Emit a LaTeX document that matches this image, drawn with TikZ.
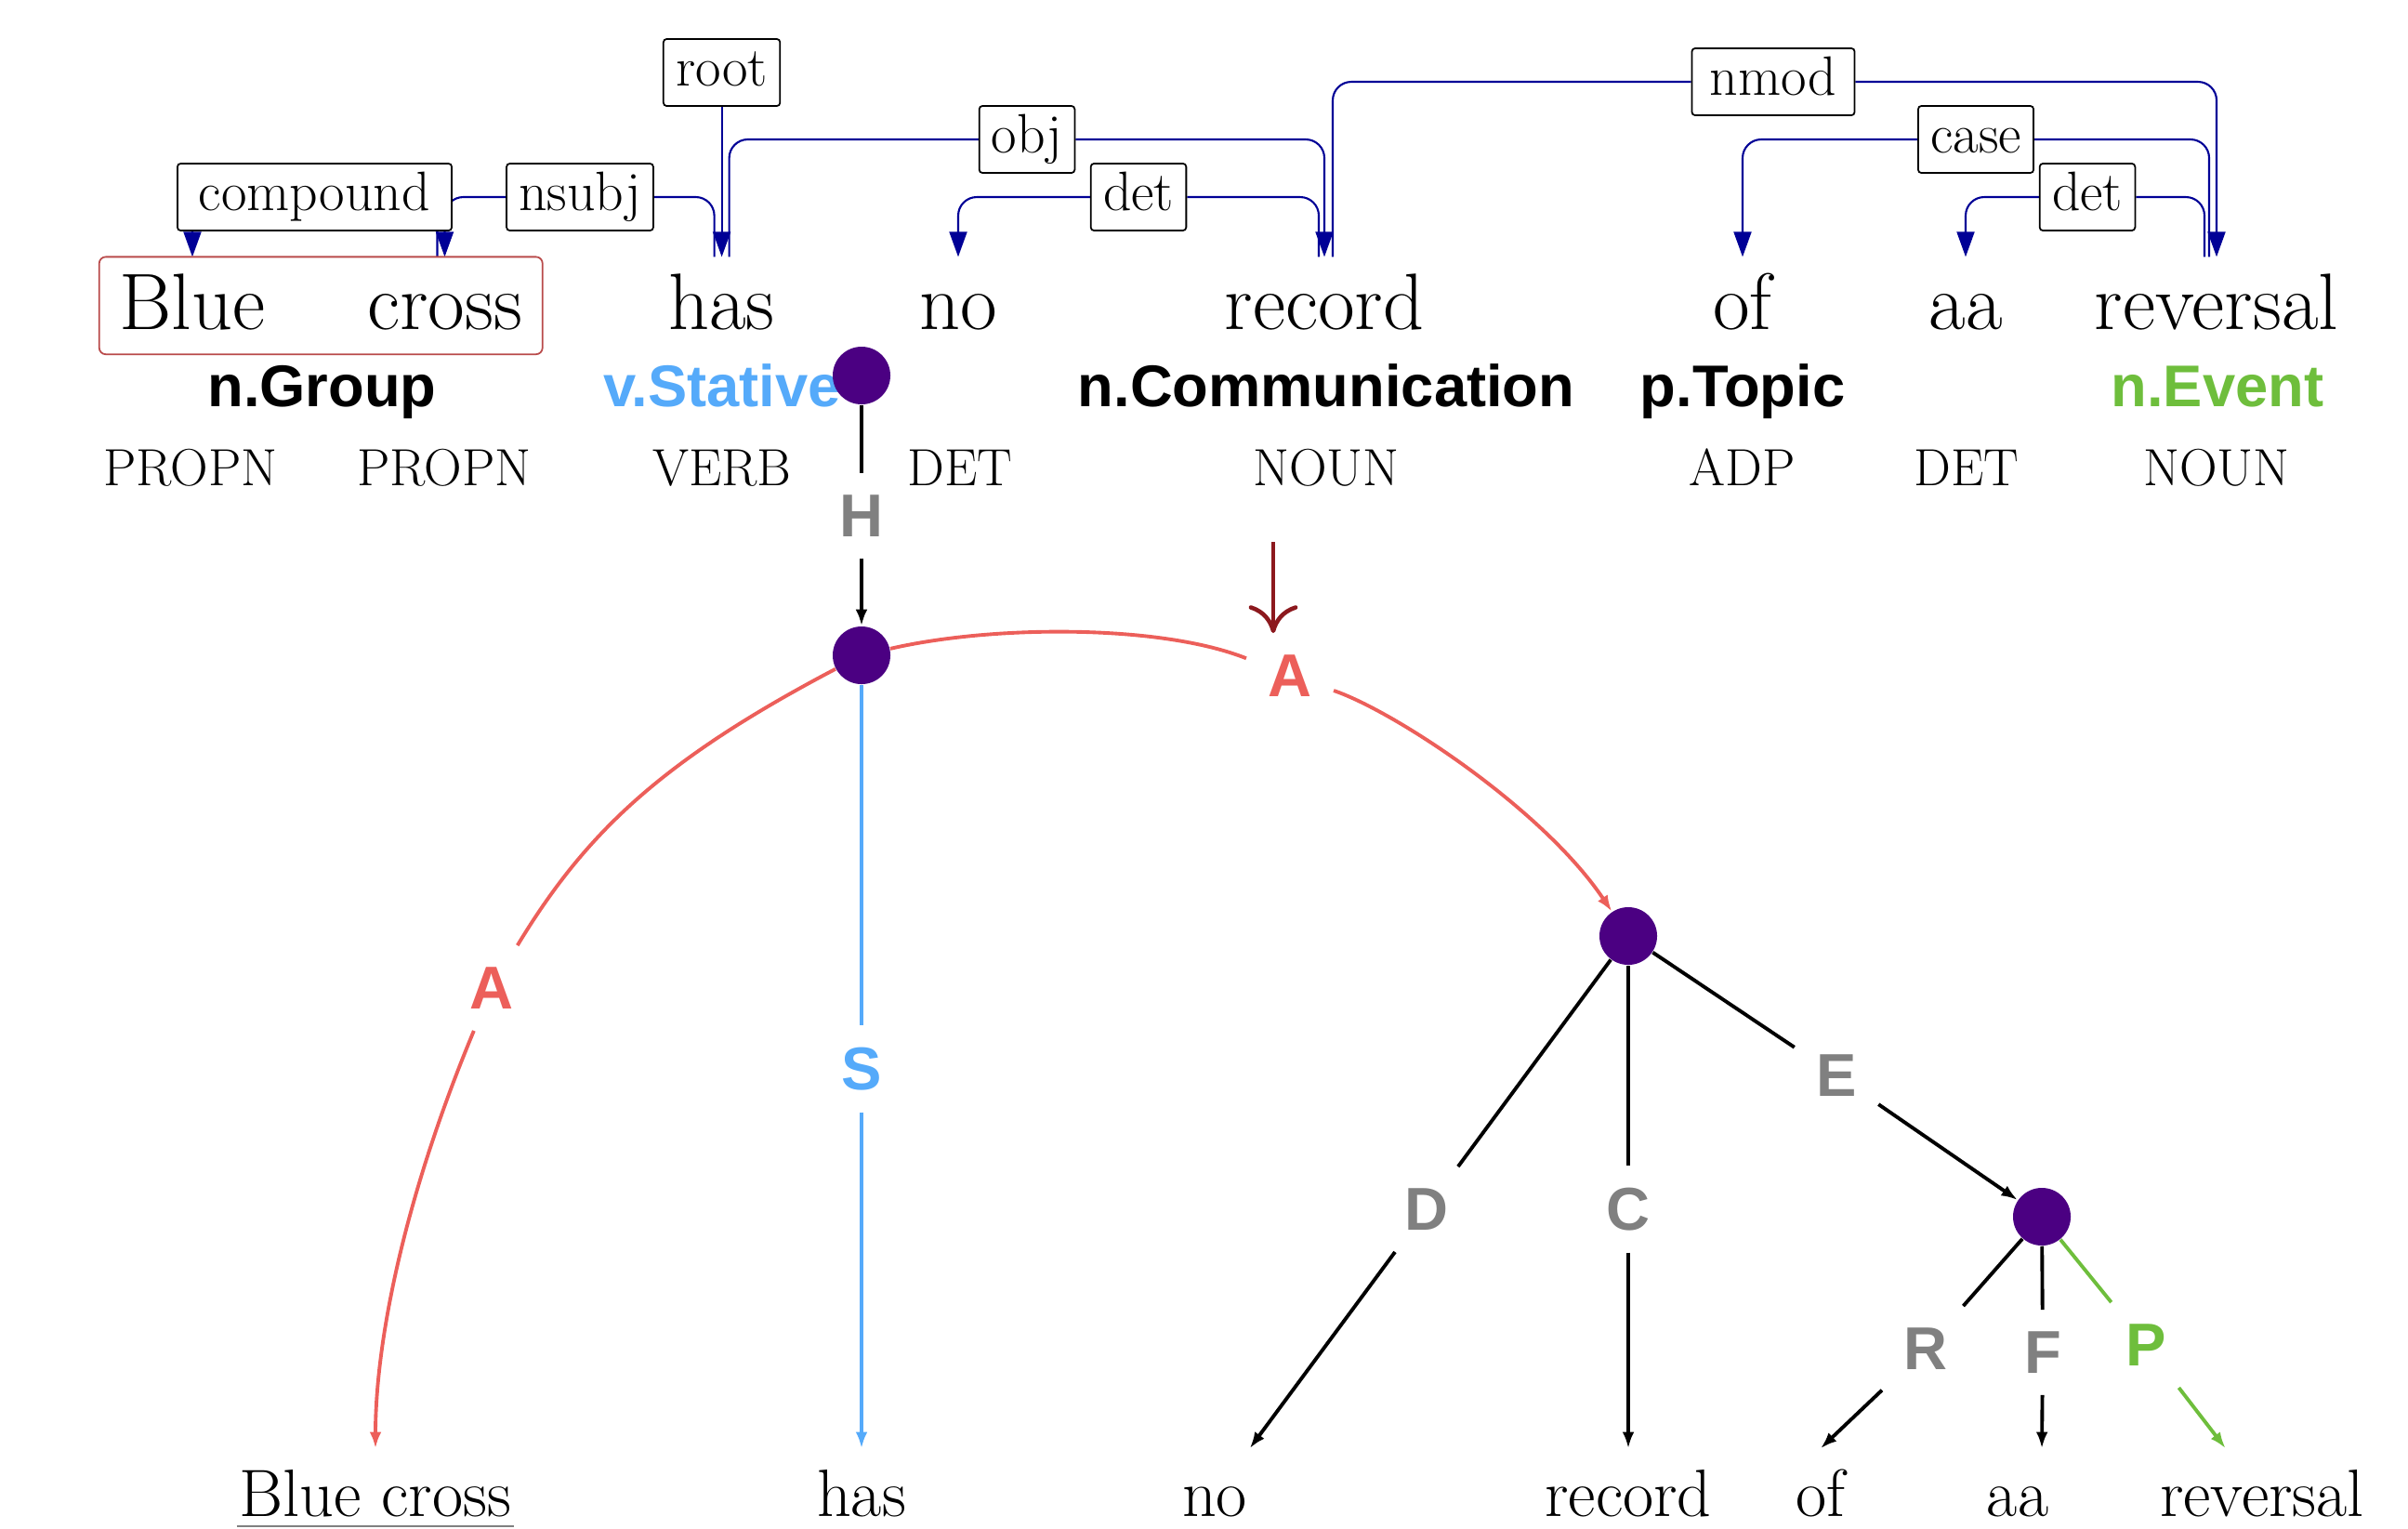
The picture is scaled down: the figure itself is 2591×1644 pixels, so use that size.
\documentclass[tikz,border=0pt]{standalone}
\usepackage{fontspec}
\setsansfont{Liberation Sans}
\usetikzlibrary{arrows.meta,positioning,calc,fit,backgrounds}
\definecolor{depblue}{RGB}{0,0,150}
\definecolor{uccaA}{RGB}{236,95,90}
\definecolor{uccaS}{RGB}{85,170,250}
\definecolor{uccaP}{RGB}{110,190,60}
\definecolor{unitfill}{HTML}{4B0082}
\definecolor{labgray}{RGB}{128,128,128}
\definecolor{remotered}{RGB}{140,25,30}
\definecolor{spanred}{RGB}{185,75,75}

\begin{document}
\begin{tikzpicture}[
  x=0.01cm, y=-0.01cm,
  word/.style={font=\fontsize{24.5}{29}\selectfont, anchor=base, text height=17.15pt,
    text depth=2.45pt, inner xsep=6pt, inner ysep=4.9pt},
  postag/.style={font=\fontsize{16}{19}\selectfont, anchor=base},
  sense/.style={font=\fontsize{18}{22}\sffamily\bfseries\selectfont, anchor=base},
  deplab/.style={draw, fill=white, rounded corners=1pt, line width=0.5pt,
    font=\fontsize{17}{20}\selectfont, text height=12.2pt, text depth=3.7pt,
    inner xsep=3.8pt, inner ysep=0pt, minimum height=20.5pt},
  dep/.style={depblue, line width=0.6pt, rounded corners=0.2cm,
    -{Triangle[length=7.7pt,width=5.4pt]}},
  unit/.style={circle, fill=unitfill, minimum size=0.62cm, inner sep=0pt},
  lab/.style={font=\fontsize{18.5}{22}\sffamily\bfseries\selectfont, text=labgray, inner sep=6.5pt},
  tok/.style={font=\fontsize{20.5}{25}\selectfont, anchor=base, text height=14.35pt,
    text depth=2pt, inner xsep=6pt, inner ysep=6.15pt},
  ucca/.style={line width=1.1pt, -{Latex[length=5pt,width=3.6pt]}},
]
  \useasboundingbox (0,0) rectangle (2591,1644);

  % Sentence
  \foreach \n/\x/\t in {blue/207/Blue, cross/478.5/cross, has/776.6/has, no/1031/no,
    rec/1425/record, of/1875/of, aa/2115/aa, rev/2385/reversal} {
    \node[word] (w\n) at (\x,354.6) {\t};
  }
  \node[draw=spanred, rounded corners=2pt, line width=0.5pt, inner sep=0pt,
        fit=(wblue)(wcross)] (span) {};

  % POS tags
  \foreach \x/\t [count=\i] in {205/PROPN, 478/PROPN, 777/VERB, 1033/DET,
    1427/NOUN, 1875/ADP, 2115.6/DET, 2385/NOUN} {
    \node[postag] (pos\i) at (\x,522) {\t};
  }

  % Supersenses
  \node[sense] (sgroup) at (346.5,437.5) {n.Group};
  \node[sense, text=uccaS] (sstat) at (777,437.5) {v.Stative};
  \node[sense] (scomm) at (1427,437.5) {n.Communication};
  \node[sense] (stopic) at (1875,437.5) {p.Topic};
  \node[sense, text=uccaP] (sevent) at (2386,437.5) {n.Event};

  % Dependency labels
  \node[deplab] (droot) at (776.6,78) {root};
  \node[deplab, minimum width=2.95cm] (dcomp) at (338.5,212) {compound};
  \node[deplab] (dnsubj) at (624,212) {nsubj};
  \node[deplab] (dobj) at (1105,150) {obj};
  \node[deplab] (ddeta) at (1225,212) {det};
  \node[deplab, minimum width=1.75cm] (dnmod) at (1908,88) {nmod};
  \node[deplab] (dcase) at (2126,150) {case};
  \node[deplab] (ddetb) at (2246,212) {det};

  % Dependency arcs
  \begin{scope}[on background layer]
    \draw[dep] (droot) -- (whas.north);
    \draw[dep] ($(wcross.north)+(-8,0)$) |- (dcomp.center) -| (wblue.north);
    \draw[dep] ($(whas.north)+(-8,0)$) |- (dnsubj) -| (wcross.north);
    \draw[dep] ($(whas.north)+(8,0)$) |- (dobj) -| (wrec.north);
    \draw[dep] ($(wrec.north)+(-6,0)$) |- (ddeta) -| (wno.north);
    \draw[dep] ($(wrec.north)+(9,0)$) |- (dnmod) -| (wrev.north);
    \draw[dep] ($(wrev.north)+(-8,0)$) |- (dcase) -| (wof.north);
    \draw[dep] ($(wrev.north)+(-13,0)$) |- (ddetb) -| (waa.north);
  \end{scope}

  % UCCA units
  \node[unit] (u1) at (927,404) {};
  \node[unit] (u2) at (927,705) {};
  \node[unit] (u3) at (1752,1007) {};
  \node[unit] (u4) at (2197,1309) {};

  % Terminals
  \node[tok] (tbc) at (404,1631) {Blue cross};
  \node[tok] (thas) at (927,1631) {has};
  \node[tok] (tno) at (1307,1631) {no};
  \node[tok] (trec) at (1752,1631) {record};
  \node[tok] (tof) at (1959,1631) {of};
  \node[tok] (taa) at (2171,1631) {aa};
  \node[tok] (trev) at (2434,1631) {reversal};
  \draw[labgray, line width=0.6pt] ($(tbc.base west)+(19,11)$) -- ($(tbc.base east)+(-19,11)$);

  % Edge labels
  \node[lab] (lH) at (927,555) {H};
  \node[lab, text=uccaA] (lAa) at (529,1063) {A};
  \node[lab, text=uccaA] (lAb) at (1388,727) {A};
  \node[lab, text=uccaS] (lS) at (927,1150) {S};
  \node[lab] (lD) at (1535,1301) {D};
  \node[lab] (lC) at (1752,1301) {C};
  \node[lab] (lE) at (1976,1157) {E};
  \node[lab] (lR) at (2072,1451) {R};
  \node[lab] (lF) at (2198,1455) {F};
  \node[lab, text=uccaP] (lP) at (2309,1447) {P};

  % Edges
  \draw[ucca] (u1) -- (lH) -- (u2);
  \draw[ucca, uccaA] (u2) .. controls (712,818) and (630,896) .. (lAa)
    .. controls (434,1291) and (404,1445) .. (tbc);
  \draw[ucca, uccaA] (u2) .. controls (1070,672) and (1250,672) .. (lAb)
    .. controls (1500,765) and (1660,870) .. (u3);
  \draw[ucca, uccaS] (u2) -- (lS) -- (thas);
  \draw[ucca] (u3) -- (lD) -- (tno);
  \draw[ucca] (u3) -- (lC) -- (trec);
  \draw[ucca] (u3) -- (lE) -- (u4);
  \draw[ucca] (u4) -- (lR) -- (tof.north);
  \draw[ucca] (u4) -- (lF) -- (u4 |- taa.north);
  \draw[ucca, uccaP] (u4) -- (lP) -- (trev);

  % Remote marker
  \coordinate (remote) at (1370,583);
  \draw[remotered, line width=1.3pt, -{Computer Modern Rightarrow[length=8.5pt,width=15pt]}]
    (remote) -- (remote |- lAb.north);
\end{tikzpicture}
\end{document}
